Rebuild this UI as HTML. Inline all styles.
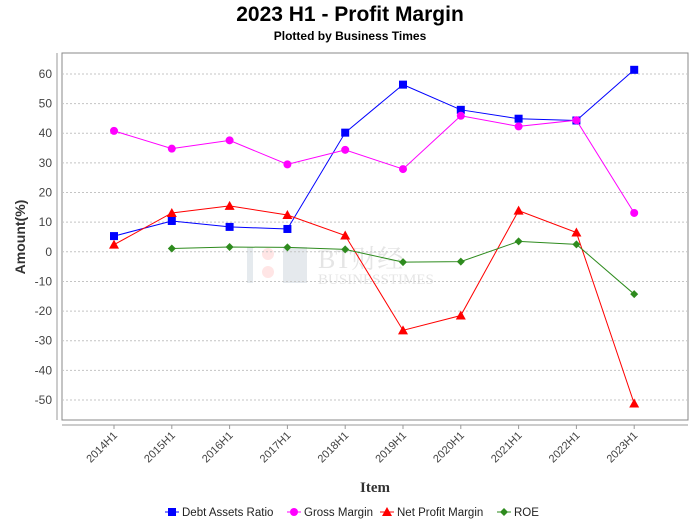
<!DOCTYPE html>
<html><head><meta charset="utf-8"><style>
body{margin:0;background:#fff;font-family:"Liberation Sans",sans-serif}
</style></head><body>
<svg width="700" height="524" viewBox="0 0 700 524" xmlns="http://www.w3.org/2000/svg">
<text x="350" y="21" text-anchor="middle" font-size="21" font-weight="bold" font-family="Liberation Sans">2023 H1 - Profit Margin</text>
<text x="350" y="40" text-anchor="middle" font-size="12" font-weight="bold" font-family="Liberation Sans">Plotted by Business Times</text>
<rect x="62" y="53" width="626" height="367" fill="#fff" stroke="#888"/>
<g id="wm" opacity="0.25">
<rect x="247" y="247" width="6" height="36" fill="#9ab"/><circle cx="268" cy="254" r="6" fill="#f99"/><circle cx="268" cy="272" r="6" fill="#f99"/><rect x="283" y="247" width="24" height="36" fill="#9ab"/>
<text x="318" y="268" font-size="26" font-family="Liberation Serif, Noto Serif CJK SC, serif" fill="#999">BT财经</text>
<text x="318" y="284" font-size="15" font-family="Liberation Serif, serif" fill="#999">BUSINESSTIMES</text>
</g>
<g id="grid"></g><g id="yt"></g><g id="xt"></g><g id="series"></g>
<line x1="62" y1="425" x2="688" y2="425" stroke="#999"/>
<line x1="57" y1="53" x2="57" y2="420" stroke="#999"/>
<text transform="translate(25,237) rotate(-90)" text-anchor="middle" font-size="14" font-weight="bold" fill="#333">Amount(%)</text>
<text x="375" y="492" text-anchor="middle" font-size="15" font-weight="bold" font-family="Liberation Serif" fill="#333">Item</text>
<g id="legend" font-size="11.5" fill="#222"></g>
</svg>
<script>
const categories=["2014H1","2015H1","2016H1","2017H1","2018H1","2019H1","2020H1","2021H1","2022H1","2023H1"];
const debtAssets=[5.3,10.4,8.4,7.7,40.2,56.4,47.9,44.9,44.3,61.4];
const grossMargin=[40.8,34.8,37.6,29.5,34.4,27.9,45.9,42.3,44.4,13.1];
const netMargin=[2.4,13.1,15.5,12.4,5.5,-26.5,-21.5,13.9,6.5,-51.2];
const roe=[null,1.1,1.6,1.5,0.8,-3.5,-3.3,3.5,2.5,-14.3];
const yTicks=[60,50,40,30,20,10,0,-10,-20,-30,-40,-50];
const NS="http://www.w3.org/2000/svg";
const y=v=>251.8-v*2.964;
const x=i=>114+i*57.8;
function mk(t,a,p){const e=document.createElementNS(NS,t);for(const k in a)e.setAttribute(k,a[k]);p.appendChild(e);return e;}
const grid=document.getElementById('grid'),yt=document.getElementById('yt'),xt=document.getElementById('xt');
yTicks.forEach(v=>{
 const l=mk('line',{x1:62,x2:688,y1:y(v),y2:y(v),stroke:'#c4c4c4','stroke-dasharray':'2,2'},grid);
 
 
 const t=mk('text',{x:52,y:y(v)+4,'text-anchor':'end','font-size':12,fill:'#444'},yt);
 t.textContent=v;
 
 
});
categories.forEach((c,i)=>{
 mk('line',{x1:x(i),x2:x(i),y1:425,y2:429,stroke:'#999'},xt);
 const t=mk('text',{transform:`translate(${x(i)+4},${436}) rotate(-45)`,'text-anchor':'end','font-size':11,fill:'#444'},xt);
 t.textContent=c;
 
 
});
const S=document.getElementById('series');
function marker(shape,cx,cy,col,p){
 if(shape==='sq')return mk('rect',{x:cx-4,y:cy-4,width:8,height:8,fill:col},p);
 if(shape==='ci')return mk('circle',{cx,cy,r:4,fill:col},p);
 if(shape==='tr')return mk('polygon',{points:`${cx},${cy-5} ${cx+5},${cy+4} ${cx-5},${cy+4}`,fill:col},p);
 return mk('polygon',{points:`${cx},${cy-4} ${cx+4},${cy} ${cx},${cy+4} ${cx-4},${cy}`,fill:col},p);
}
const series=[["debt-assets-ratio",debtAssets,'#0000ff','sq',"Debt Assets Ratio"],["gross-margin",grossMargin,'#ff00ff','ci',"Gross Margin"],["net-profit-margin",netMargin,'#ff0000','tr',"Net Profit Margin"],["roe",roe,'#2e8b1e','di',"ROE"]];
series.forEach(([n,d,col,sh])=>{
 const g=mk('g',{},S);
 
 
 const pts=d.map((v,i)=>v==null?null:[x(i),y(v)]).filter(p=>p);
 mk('polyline',{points:pts.map(p=>p.join(',')).join(' '),fill:'none',stroke:col,'stroke-width':1},g);
 pts.forEach(p=>{const m=marker(sh,p[0],p[1],col,g);
  
  });
});
const L=document.getElementById('legend');
const lx=[165,287,380,497];
series.forEach(([n,d,col,sh,label],i)=>{
 const g=mk('g',{},L);
 
 
 mk('line',{x1:lx[i],x2:lx[i]+14,y1:512,y2:512,stroke:col},g);
 marker(sh,lx[i]+7,512,col,g);
 const t=mk('text',{x:lx[i]+17,y:516},g);t.textContent=label;
});
</script>
</body></html>
